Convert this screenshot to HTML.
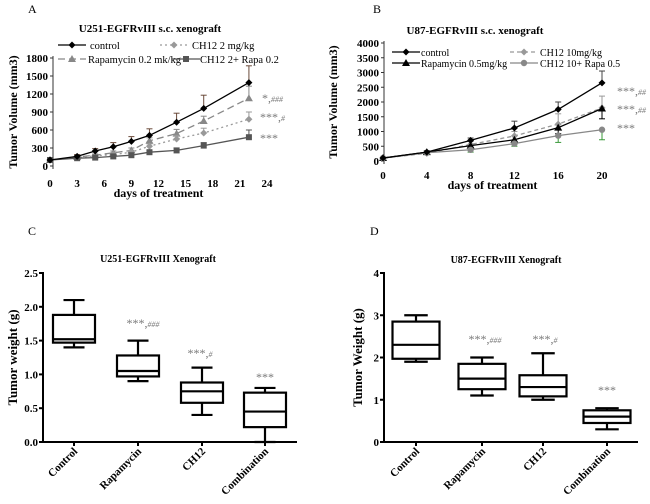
<!DOCTYPE html>
<html><head><meta charset="utf-8"><style>
body{margin:0;background:#fff}
svg{display:block;font-family:"Liberation Serif",serif;font-weight:bold}
</style></head><body>
<svg id="s" width="650" height="504" viewBox="0 0 650 504">
<text x="28" y="13" font-size="12" font-weight="normal">A</text>
<text x="150" y="32" font-size="11" text-anchor="middle">U251-EGFRvIII s.c. xenograft</text>
<text x="373" y="13" font-size="12" font-weight="normal">B</text>
<text x="475" y="34" font-size="11" text-anchor="middle">U87-EGFRvIII s.c. xenograft</text>
<text x="28" y="235" font-size="12" font-weight="normal">C</text>
<text x="158" y="262" font-size="10" text-anchor="middle">U251-EGFRvIII Xenograft</text>
<text x="370" y="235" font-size="12" font-weight="normal">D</text>
<text x="506" y="263" font-size="10" text-anchor="middle">U87-EGFRvIII Xenograft</text>
<g id="gA"></g><g id="gB"></g><g id="gC"></g><g id="gD"></g>
</svg>
<script>
// Panel A data
const daysA=[0,3,5,7,9,11,14,17,22];
const ctrlA=[100,160,250,320,410,510,730,960,1390];
const ctrlAerr=[0,30,40,70,80,110,150,220,280];
const rapaA=[100,150,180,220,260,420,540,750,1130];
const rapaAerr=[0,20,20,30,40,50,70,80,200];
const ch12A=[100,140,170,190,230,330,450,550,780];
const ch12Aerr=[0,20,20,30,30,40,60,80,120];
const combA=[100,130,140,160,180,230,260,340,480];
const combAerr=[0,15,15,20,20,30,40,50,120];
const ticksAx=[0,3,6,9,12,15,18,21,24];
const ticksAy=[0,300,600,900,1200,1500,1800];
// Panel B data
const daysB=[0,4,8,12,16,20];
const ctrlB=[100,300,700,1120,1750,2650];
const ctrlBerr=[0,50,80,230,250,400];
const ch12B=[100,260,560,850,1250,1800];
const ch12Berr=[0,40,100,150,350,400];
const rapaB=[100,300,520,720,1130,1780];
const rapaBerr=[0,40,80,150,200,350];
const combB=[100,280,380,590,860,1060];
const combBerr=[0,40,80,90,230,340];
const ticksBx=[0,4,8,12,16,20];
const ticksBy=[0,500,1000,1500,2000,2500,3000,3500,4000];
// Panel C/D box data
const cats=["Control","Rapamycin","CH12","Combination"];
const boxC=[[1.4,1.47,1.52,1.88,2.1],[0.9,0.97,1.05,1.28,1.5],[0.4,0.58,0.75,0.88,1.1],[0.0,0.22,0.45,0.73,0.8]];
const ticksCy=[0,0.5,1,1.5,2,2.5];
const boxD=[[1.9,1.97,2.3,2.85,3.0],[1.1,1.25,1.5,1.85,2.0],[1.0,1.08,1.3,1.58,2.1],[0.3,0.45,0.6,0.75,0.8]];
const ticksDy=[0,1,2,3,4];

const NS="http://www.w3.org/2000/svg";
function mk(p,t,a,txt){const e=document.createElementNS(NS,t);for(const k in a)e.setAttribute(k,a[k]);if(txt!==undefined)e.textContent=txt;p.appendChild(e);return e;}

function marker(g,type,x,y,c){
  let e;
  if(type==="diamond") e=mk(g,"path",{d:`M${x} ${y-3.5}L${x+3.5} ${y}L${x} ${y+3.5}L${x-3.5} ${y}Z`,fill:c});
  else if(type==="tri") e=mk(g,"path",{d:`M${x} ${y-4}L${x+4} ${y+3}L${x-4} ${y+3}Z`,fill:c});
  else if(type==="square") e=mk(g,"rect",{x:x-3,y:y-3,width:6,height:6,fill:c});
  else e=mk(g,"circle",{cx:x,cy:y,r:3.2,fill:c});
  
  
}

function lineChart(g,cfg){
  const X=v=>cfg.x0+(v-cfg.xmin)/(cfg.xmax-cfg.xmin)*(cfg.x1-cfg.x0);
  const Y=v=>cfg.y0-(v/cfg.ymax)*(cfg.y0-cfg.y1);
  const ax=mk(g,"path",{d:`M${cfg.axX} ${Y(cfg.ymax)-2}V${cfg.y0+3}`,stroke:"#333",fill:"none","stroke-width":1});
  
  
  cfg.yt.forEach(v=>{
    mk(g,"line",{x1:cfg.axX-3,x2:cfg.axX,y1:Y(v),y2:Y(v),stroke:"#333"});
    const t=mk(g,"text",{x:cfg.axX-5,y:Y(v)+4,"font-size":11,"text-anchor":"end"},v);
    
    
  });
  cfg.xt.forEach(v=>{
    const t=mk(g,"text",{x:X(v),y:cfg.xly,"font-size":11,"text-anchor":"middle"},v);
    
    
  });
  cfg.series.forEach(s=>{
    const sg=mk(g,"g",{});
    
    
    s.v.forEach((v,i)=>{ if(s.e[i]>0){const x=X(s.days[i]);const yy=s.down?Y(v-s.e[i]):Y(v+s.e[i]);
      mk(sg,"line",{x1:x,x2:x,y1:Y(v),y2:yy,stroke:s.ec||s.c,"stroke-width":1});
      mk(sg,"line",{x1:x-3,x2:x+3,y1:yy,y2:yy,stroke:s.ec||s.c,"stroke-width":1});}});
    mk(sg,"polyline",{points:s.v.map((v,i)=>X(s.days[i])+","+Y(v)).join(" "),fill:"none",stroke:s.c,"stroke-width":s.w||1.3,"stroke-dasharray":s.dash||"none"});
    s.v.forEach((v,i)=>marker(sg,s.m,X(s.days[i]),Y(v),s.c));
  });
  const xl=mk(g,"text",{x:(cfg.x0+cfg.x1)/2,y:cfg.xly+10,"font-size":12,"text-anchor":"middle"},"days of treatment");
  
  
  const yl=mk(g,"text",{transform:`translate(${cfg.ylx},${(cfg.y0+cfg.y1)/2}) rotate(-90)`,"font-size":12,"text-anchor":"middle"},"Tumor Volume (mm3)");
  
  
  cfg.legend.forEach(l=>{
    const lg=mk(g,"g",{});
    
    
    mk(lg,"line",{x1:l.x,x2:l.x+28,y1:l.y,y2:l.y,stroke:l.c,"stroke-width":1.3,"stroke-dasharray":l.dash||"none"});
    marker(lg,l.m,l.x+14,l.y,l.c);
    mk(lg,"text",{x:l.x+l.tx,y:l.y+4,"font-size":cfg.lfs,"font-weight":"normal"},l.t);
  });
  cfg.ann.forEach(a=>{
    const t=mk(g,"text",{x:a.x,y:a.y,"font-size":12,fill:"#777","font-weight":"normal"});
    
    
    mk(t,"tspan",{},a.s);
    if(a.h){mk(t,"tspan",{"font-size":8,"font-style":"italic"},a.h);}
  });
}

lineChart(document.getElementById("gA"),{x0:50,x1:267,xmin:0,xmax:24,y0:166,y1:58,ymax:1800,axX:53,xly:187,ylx:17,lfs:10.5,
 xt:ticksAx,yt:ticksAy,
 series:[
  {name:"series-rapamycin",days:daysA,v:rapaA,e:rapaAerr,c:"#888",m:"tri",dash:"7,4"},
  {name:"series-ch12",days:daysA,v:ch12A,e:ch12Aerr,c:"#999",m:"diamond",dash:"2,3"},
  {name:"series-combination",days:daysA,v:combA,e:combAerr,c:"#555",m:"square"},
  {name:"series-control",days:daysA,v:ctrlA,e:ctrlAerr,c:"#000",m:"diamond",ec:"#6b4b3b"}],
 legend:[{x:58,y:45,c:"#000",m:"diamond",t:"control",tx:32},{x:160,y:45,c:"#999",m:"diamond",dash:"2,3",t:"CH12 2 mg/kg",tx:32},
  {x:58,y:59,c:"#888",m:"tri",dash:"7,4",t:"Rapamycin 0.2 mk/kg",tx:30},{x:172,y:59,c:"#555",m:"square",t:"CH12 2+ Rapa 0.2",tx:28}],
 ann:[{x:262,y:102,s:"*,",h:"###"},{x:260,y:121,s:"***,",h:"#"},{x:260,y:142,s:"***"}]});

lineChart(document.getElementById("gB"),{x0:383,x1:602,xmin:0,xmax:20,y0:161,y1:43,ymax:4000,axX:384,xly:179,ylx:337,lfs:10,
 xt:ticksBx,yt:ticksBy,
 series:[
  {name:"series-ch12",days:daysB,v:ch12B,e:ch12Berr,c:"#999",m:"diamond",dash:"4,3"},
  {name:"series-rapamycin",days:daysB,v:rapaB,e:rapaBerr,c:"#000",m:"tri",down:true},
  {name:"series-combination",days:daysB,v:combB,e:combBerr,c:"#888",m:"circle",ec:"#3a9a3a",down:true},
  {name:"series-control",days:daysB,v:ctrlB,e:ctrlBerr,c:"#000",m:"diamond",ec:"#444"}],
 legend:[{x:392,y:52,c:"#000",m:"diamond",t:"control",tx:29},{x:510,y:52,c:"#999",m:"diamond",dash:"4,3",t:"CH12 10mg/kg",tx:30},
  {x:392,y:63,c:"#000",m:"tri",t:"Rapamycin 0.5mg/kg",tx:29},{x:510,y:63,c:"#888",m:"circle",t:"CH12 10+ Rapa 0.5",tx:30}],
 ann:[{x:617,y:95,s:"***,",h:"##"},{x:617,y:113,s:"***,",h:"##"},{x:617,y:132,s:"***"}]});

function boxChart(g,cfg,data,yt){
  const Y=v=>cfg.y0-(v/cfg.ymax)*(cfg.y0-cfg.y1);
  const ax=mk(g,"path",{d:`M${cfg.axX-4} ${cfg.y1}H${cfg.axX}V${cfg.y0}H${cfg.xe}`,stroke:"#000",fill:"none","stroke-width":2});
  
  
  yt.forEach(v=>{
    mk(g,"line",{x1:cfg.axX-4,x2:cfg.axX,y1:Y(v),y2:Y(v),stroke:"#000","stroke-width":2});
    const t=mk(g,"text",{x:cfg.axX-5,y:Y(v)+4,"font-size":11,"text-anchor":"end"},cfg.fmt(v));
    
    
  });
  data.forEach((d,i)=>{
    const x=cfg.xs[i],w=cfg.bw/2;
    const bg=mk(g,"g",{fill:"none",stroke:"#000","stroke-width":2.2});
    
    
    mk(bg,"line",{x1:x,x2:x,y1:Y(d[0]),y2:Y(d[1])});
    mk(bg,"line",{x1:x,x2:x,y1:Y(d[3]),y2:Y(d[4])});
    mk(bg,"line",{x1:x-w/2,x2:x+w/2,y1:Y(d[0]),y2:Y(d[0])});
    mk(bg,"line",{x1:x-w/2,x2:x+w/2,y1:Y(d[4]),y2:Y(d[4])});
    mk(bg,"rect",{x:x-w,y:Y(d[3]),width:2*w,height:Y(d[1])-Y(d[3])});
    mk(bg,"line",{x1:x-w,x2:x+w,y1:Y(d[2]),y2:Y(d[2])});
    mk(g,"line",{x1:x,x2:x,y1:cfg.y0,y2:cfg.y0+4,stroke:"#000","stroke-width":2});
    const t=mk(g,"text",{transform:`translate(${x+4},${cfg.y0+10}) rotate(-45)`,"font-size":11,"text-anchor":"end"},cats[i]);
    
    
  });
  const yl=mk(g,"text",{transform:`translate(${cfg.ylx},${(cfg.y0+cfg.y1)/2}) rotate(-90)`,"font-size":13,"text-anchor":"middle"},cfg.ylab);
  
  
  cfg.ann.forEach(a=>{
    const t=mk(g,"text",{x:a.x,y:a.y,"font-size":12,fill:"#777","font-weight":"normal","text-anchor":"middle"});
    
    
    mk(t,"tspan",{},a.s);
    if(a.h) mk(t,"tspan",{"font-size":8,"font-style":"italic"},a.h);
  });
}
boxChart(document.getElementById("gC"),{y0:442,y1:273,ymax:2.5,axX:43,xe:297,xs:[74,138,202,265],bw:42,ylx:17,ylab:"Tumor weight (g)",fmt:v=>v.toFixed(1),
 ann:[{x:143,y:327,s:"***,",h:"###"},{x:200,y:357,s:"***,",h:"#"},{x:265,y:381,s:"***"}]},boxC,ticksCy);
boxChart(document.getElementById("gD"),{y0:442,y1:273,ymax:4,axX:384,xe:638,xs:[416,482,543,607],bw:47,ylx:362,ylab:"Tumor Weight (g)",fmt:v=>v,
 ann:[{x:485,y:343,s:"***,",h:"###"},{x:545,y:343,s:"***,",h:"#"},{x:607,y:394,s:"***"}]},boxD,ticksDy);
</script>
</body></html>
